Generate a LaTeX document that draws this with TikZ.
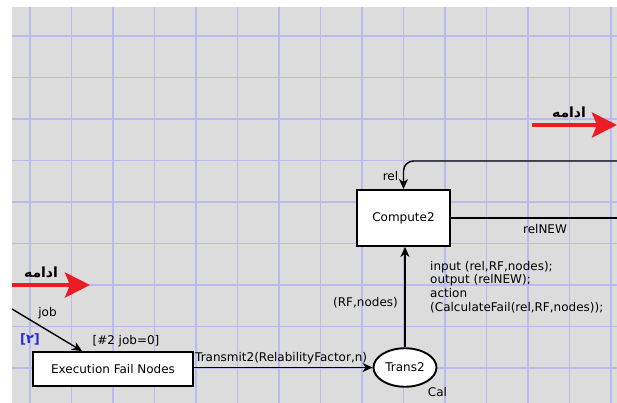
\documentclass[tikz,border=0pt]{standalone}
\usepackage{fontspec}
\setmainfont{DejaVu Sans}
\newfontfamily\arabicfont[Script=Arabic]{DejaVu Sans}
\TeXXeTstate=1
\usetikzlibrary{arrows.meta,shapes.geometric}
\definecolor{bggray}{RGB}{220,220,220}
\definecolor{gridblue}{RGB}{186,186,240}
\definecolor{arrred}{RGB}{237,28,36}
\definecolor{digblue}{RGB}{40,40,210}
\tikzset{
  place/.style={draw=black,line width=1.9pt,fill=white,minimum width=93pt,minimum height=56pt,inner sep=0pt},
  trbox/.style={ellipse,draw=black,line width=1.9pt,fill=white,minimum width=63pt,minimum height=38.5pt,inner sep=0pt},
  arc/.style={draw=black,line width=1.4pt},
  arcarrow/.style={arc,-{Stealth[length=10pt,width=9pt,inset=3pt]}},
  redarrow/.style={draw=arrred,line width=4.2pt,-{Stealth[length=25pt,width=25pt,inset=5pt]}},
  lbl/.style={inner sep=0pt,font=\fontsize{12}{13.7}\selectfont},
  arlbl/.style={inner sep=0pt,font=\arabicfont\bfseries\fontsize{14}{16}\selectfont},
}
\begin{document}
\begin{tikzpicture}[x=1pt,y=-1pt]
\useasboundingbox (0,0) rectangle (617,403);
\fill[white] (0,0) rectangle (617,403);
\fill[bggray] (12,7) rectangle (617,403);
\begin{scope}
\clip (12,7) rectangle (617,403);
\foreach \i in {0,...,14} \draw[gridblue,line width=1.5pt] ({30.2+41.5*\i},7) -- ++(0,396);
\foreach \j in {0,...,8} \draw[gridblue,line width=1.5pt] (12,{36.2+41.5*\j}) -- ++(605,0);
\end{scope}

% nodes
\node[place] (comp) at (403.5,218) {\fontsize{12}{14}\selectfont Compute2};
\node[place,minimum width=160pt,minimum height=34pt] (efn) at (113,369) {\fontsize{12}{14}\selectfont Execution Fail Nodes};
\node[trbox] (trans) at (405,367.5) {\fontsize{12}{14}\selectfont Trans2};

% free ends
\coordinate (relstart) at (617,161);
\coordinate (relnewend) at (617,218);
\coordinate (jobstart) at (12,309);
\coordinate (rA1) at (532,125);
\coordinate (rA2) at (617,125);
\coordinate (rB1) at (12,285);
\coordinate (rB2) at (90,285);

% connectors
\draw[arcarrow,rounded corners=10pt] (relstart) -- (relstart -| comp.north) -- (comp.north);
\draw[arc] (comp.east) -- (relnewend);
\draw[arcarrow] (trans.north |- trans.north) -- (trans.north |- comp.south);
\draw[arcarrow] (efn.east |- trans.west) -- (trans.west);
\draw[arcarrow] (jobstart) -- ([xshift=50pt]efn.north west);

% red arrows
\draw[redarrow] (rA1) -- (rA2);
\draw[redarrow] (rB1) -- (rB2);

% labels
\node[arlbl] (arA) at (569,112) {\beginR ادامه\endR};
\node[arlbl] (arB) at (41,272) {\beginR ادامه\endR};
\node[lbl] (lrel) at (390.5,176) {rel};
\node[lbl] (lrelnew) at (545,229.5) {relNEW};
\node[lbl] (lrf) at (365.5,303) {(RF,nodes)};
\node[lbl,align=left,anchor=north west] (code) at (430,260.7) {input (rel,RF,nodes);\\output (relNEW);\\action\\(CalculateFail(rel,RF,nodes));};
\node[lbl,anchor=west] (ltr) at (195,358.3) {Transmit2(RelabilityFactor,n)};
\node[lbl] (lcal) at (437.5,391.7) {Cal};
\node[lbl] (lguard) at (126,341) {[\#2 job=0]};
\node[lbl] (ljob) at (47.5,313) {job};
\node[lbl,text=digblue,font=\bfseries\fontsize{13}{14}\selectfont] (lnum) at (30,339) {[{\arabicfont ۲}]};
\end{tikzpicture}
\end{document}
